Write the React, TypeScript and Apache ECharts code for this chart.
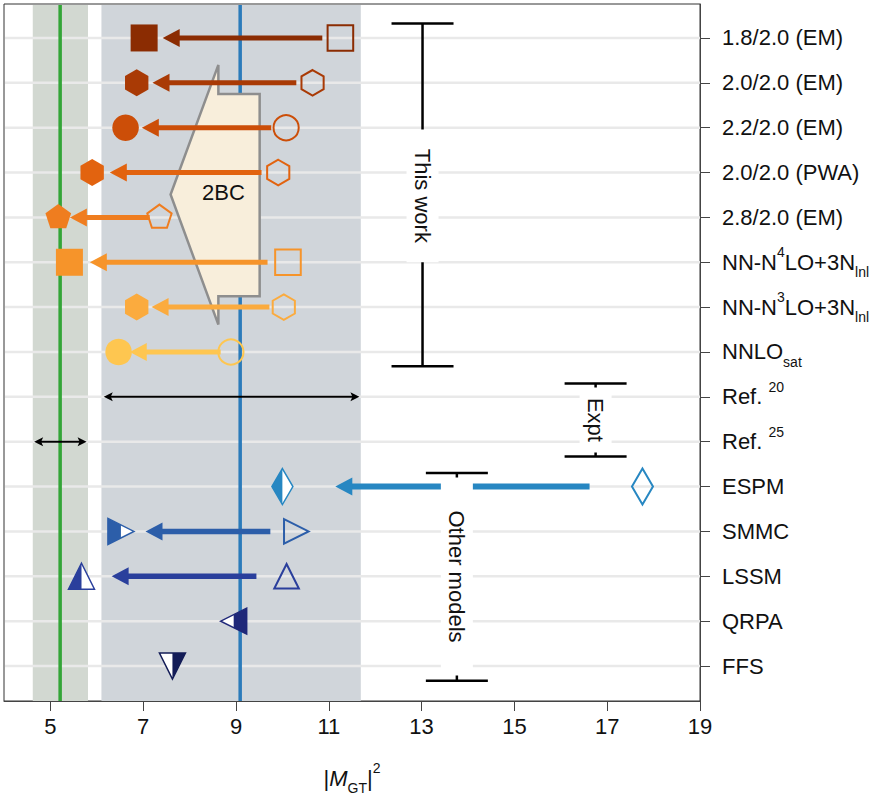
import { useEffect, useRef } from 'react';
import * as echarts from 'echarts';

const FONT = '"Liberation Sans", Arial, Helvetica, sans-serif';

// right-hand row labels (rich text)
const rowLabels = [
  '{t|1.8/2.0 (EM)}',
  '{t|2.0/2.0 (EM)}',
  '{t|2.2/2.0 (EM)}',
  '{t|2.0/2.0 (PWA)}',
  '{t|2.8/2.0 (EM)}',
  '{t|NN-N}{sup4|4}{t|LO+3N}{sub|lnl}',
  '{t|NN-N}{sup4|3}{t|LO+3N}{sub|lnl}',
  '{t|NNLO}{sub|sat}',
  '{t|Ref. }{sup|20}',
  '{t|Ref. }{sup|25}',
  '{t|ESPM}',
  '{t|SMMC}',
  '{t|LSSM}',
  '{t|QRPA}',
  '{t|FFS}',
];
const rowIndex = rowLabels.map((_, i) => i);
const xTicks = [5, 7, 9, 11, 13, 15, 17, 19];

// this work, rows 0-7
const twRows = [0, 1, 2, 3, 4, 5, 6, 7];
const twShapes = ['square', 'hexagon', 'circle', 'hexagon', 'pentagon', 'square', 'hexagon', 'circle'];
const twColors = ['#8b2c02', '#a93a05', '#cc4e08', '#e2630f', '#ef7d1f', '#f6942a', '#fbab3e', '#fec650'];
const twNo2BC = [11.25, 10.65, 10.08, 9.91, 7.35, 10.12, 10.03, 8.89];
const twWith2BC = [7.02, 6.86, 6.62, 5.9, 5.17, 5.41, 6.86, 6.47];
const twArrowFrom = [10.86, 10.3, 9.76, 9.55, 7.14, 9.68, 9.72, 8.67];
const twArrowTo = [7.42, 7.2, 6.97, 6.28, 5.42, 5.85, 7.18, 6.71];

// other models, rows 10-14
const omRows = [10, 11, 12, 13, 14];
const omShapes = ['diamond', 'triRight', 'triUp', 'triLeft', 'triDown'];
const omColors = ['#2787c2', '#2c5ea9', '#2a3f9c', '#1f2879', '#131c57'];
const omQuenched = [10.0, 6.52, 5.67, 8.95, 7.63];
const omBare = [17.76, 10.3, 10.09, null, null];
const omArrowFrom = [16.62, 9.74, 9.44, null, null];
const omArrowTo = [11.14, 7.05, 6.32, null, null];

// experiment, rows 8-9
const exptRows = [8, 9];
const exptLow = [6.15, 4.65];
const exptHigh = [11.66, 5.78];
const exptBandLow = [6.1, 4.62];
const exptBandHigh = [11.69, 5.81];
const exptCentral = [9.09, 5.21];
const exptBandColors = ['#d0d5da', '#d2d8d1'];
const exptLineColors = ['#2b7bba', '#33a537'];

// 2BC outline
const twoBCx = [8.62, 7.59, 8.62, 8.62, 9.51, 9.51, 8.62];
const twoBCrow = [0.6, 3.49, 6.39, 5.76, 5.76, 1.25, 1.25];
const twoBCText = [8.73, 3.45];

// brackets
const bracketLabels = ['This work', 'Expt', 'Other models'];
const bracketX = [13.02, 16.75, 13.76];
const bracketTop = [-0.32, 7.7, 9.7];
const bracketBottom = [7.32, 9.33, 14.33];
const bracketGapTop = [2.04, 7.79, 9.8];
const bracketGapBottom = [5.0, 9.24, 14.21];

type Pt = [number, number];

function shapePoints(shape: string, cx: number, cy: number, r: number): Pt[] {
  if (shape === 'square') return [[cx - r, cy - r], [cx + r, cy - r], [cx + r, cy + r], [cx - r, cy + r]];
  if (shape === 'hexagon' || shape === 'pentagon') {
    const n = shape === 'hexagon' ? 6 : 5;
    const pts: Pt[] = [];
    for (let k = 0; k < n; k++) {
      const a = -Math.PI / 2 + (k * 2 * Math.PI) / n;
      pts.push([cx + r * Math.cos(a), cy + r * Math.sin(a)]);
    }
    return pts;
  }
  const t = r - 0.5;
  if (shape === 'diamond') return [[cx, cy - 18], [cx + 10.5, cy], [cx, cy + 18], [cx - 10.5, cy]];
  if (shape === 'triRight') return [[cx - t, cy - t], [cx + t, cy], [cx - t, cy + t]];
  if (shape === 'triLeft') return [[cx + t, cy - t], [cx - t, cy], [cx + t, cy + t]];
  if (shape === 'triUp') return [[cx, cy - t], [cx + t, cy + t], [cx - t, cy + t]];
  return [[cx - t, cy - t], [cx + t, cy - t], [cx, cy + t]];
}

function halfPoints(shape: string, cx: number, cy: number, r: number): Pt[] {
  const t = r - 0.5;
  if (shape === 'diamond') return [[cx, cy - 18], [cx, cy + 18], [cx - 10.5, cy]];
  if (shape === 'triRight') return [[cx - t, cy - t], [cx, cy - t / 2], [cx, cy + t / 2], [cx - t, cy + t]];
  if (shape === 'triLeft') return [[cx, cy - t / 2], [cx + t, cy - t], [cx + t, cy + t], [cx, cy + t / 2]];
  if (shape === 'triUp') return [[cx, cy - t], [cx, cy + t], [cx - t, cy + t]];
  return [[cx, cy - t], [cx + t, cy - t], [cx, cy + t]];
}

function markerEl(shape: string, cx: number, cy: number, color: string, open: boolean) {
  const r = open ? 12.8 : 13.5;
  const style = open ? { fill: 'none', stroke: color, lineWidth: 2 } : { fill: color };
  if (shape === 'circle') return { type: 'circle', shape: { cx, cy, r: open ? 12.6 : 13.3 }, style };
  return { type: 'polygon', shape: { points: shapePoints(shape, cx, cy, r) }, style };
}

function arrowEl(api: any, from: number, to: number, row: number, color: string, width: number) {
  const [x1, y] = api.coord([from, row]);
  const [x2] = api.coord([to, row]);
  const head = 17;
  return {
    type: 'group',
    children: [
      { type: 'line', shape: { x1, y1: y, x2: x2 + head - 1, y2: y }, style: { stroke: color, lineWidth: width } },
      { type: 'polygon', shape: { points: [[x2, y], [x2 + head, y - 9], [x2 + head, y + 9]] }, style: { fill: color } },
    ],
  };
}

export default function App() {
  const chartRef = useRef<HTMLDivElement>(null);

  useEffect(() => {
    if (!chartRef.current) return;
    const chart = echarts.init(chartRef.current, null, { renderer: 'svg' });

    const tStyle = { fontSize: 22, lineHeight: 34, fontFamily: FONT, color: '#111' };
    const small = { fontSize: 14, fontFamily: FONT, color: '#111' };

    const option: any = {
      animation: false,
      grid: { left: 4, top: 4, width: 696, height: 698, show: true, borderColor: '#333', borderWidth: 1 },
      xAxis: {
        type: 'value',
        min: 4,
        max: 19,
        axisLine: { show: true, onZero: false, lineStyle: { color: '#444', width: 1 } },
        axisTick: { show: true, length: 10, customValues: xTicks, lineStyle: { color: '#444' } },
        axisLabel: { customValues: xTicks, margin: 14, fontSize: 22, color: '#111', fontFamily: FONT },
        splitLine: { show: false },
        name: '{a||}{m|M}{s|GT}{a||}{p|2}',
        nameLocation: 'middle',
        nameGap: 60,
        nameTextStyle: {
          rich: {
            a: { ...tStyle },
            m: { ...tStyle, fontStyle: 'italic' },
            s: { ...small, lineHeight: 14, verticalAlign: 'bottom' },
            p: { ...small, lineHeight: 14, verticalAlign: 'top' },
          },
        },
      },
      yAxis: {
        type: 'value',
        inverse: true,
        min: -0.757,
        max: 14.78,
        position: 'right',
        axisLine: { show: true, onZero: false, lineStyle: { color: '#444', width: 1 } },
        axisTick: { show: true, length: 10, customValues: rowIndex, lineStyle: { color: '#444' } },
        axisLabel: {
          customValues: rowIndex,
          margin: 22,
          formatter: (v: number) => rowLabels[Math.round(v)],
          rich: {
            t: tStyle,
            sup: { ...small, lineHeight: 14, verticalAlign: 'top' },
            sup4: { ...small, lineHeight: 26, verticalAlign: 'top' },
            sub: { ...small, lineHeight: 14, verticalAlign: 'bottom' },
          },
        },
        splitLine: { show: false },
      },
      series: [
        // shaded experimental bands
        {
          type: 'custom',
          silent: true,
          data: exptRows.map((r, i) => [exptBandLow[i], exptBandHigh[i], r]),
          encode: { x: [0, 1], y: 2 },
          renderItem: (params: any, api: any) => {
            const cs = params.coordSys;
            const xa = api.coord([api.value(0), 0])[0];
            const xb = api.coord([api.value(1), 0])[0];
            return {
              type: 'rect',
              shape: { x: xa, y: cs.y + 1, width: xb - xa, height: cs.height - 1 },
              style: { fill: exptBandColors[params.dataIndex] },
            };
          },
        },
        // row grid lines
        {
          type: 'custom',
          silent: true,
          data: rowIndex.map((r) => [4, r]),
          encode: { x: 0, y: 1 },
          renderItem: (params: any, api: any) => {
            const cs = params.coordSys;
            const y = api.coord([4, api.value(1)])[1];
            return {
              type: 'line',
              shape: { x1: cs.x + 1, y1: y, x2: cs.x + cs.width, y2: y },
              style: { stroke: '#e9e9e9', lineWidth: 2.5 },
            };
          },
        },
        // central experimental values
        {
          type: 'custom',
          silent: true,
          data: exptRows.map((r, i) => [exptCentral[i], r]),
          encode: { x: 0, y: 1 },
          renderItem: (params: any, api: any) => {
            const cs = params.coordSys;
            const x = api.coord([api.value(0), 0])[0];
            return {
              type: 'line',
              shape: { x1: x, y1: cs.y + 1, x2: x, y2: cs.y + cs.height },
              style: { stroke: exptLineColors[params.dataIndex], lineWidth: 3.5 },
            };
          },
        },
        // 2BC shape
        {
          type: 'custom',
          silent: true,
          data: [twoBCText],
          encode: { x: 0, y: 1 },
          renderItem: (params: any, api: any) => {
            const pts = twoBCx.map((x, i) => api.coord([x, twoBCrow[i]]));
            const [tx, ty] = api.coord([api.value(0), api.value(1)]);
            return {
              type: 'group',
              children: [
                { type: 'polygon', shape: { points: pts }, style: { fill: '#f8eedb', stroke: '#8e8e8e', lineWidth: 2.5, lineJoin: 'miter' } },
                {
                  type: 'text',
                  x: tx,
                  y: ty,
                  style: { text: '2BC', fontSize: 22, fontFamily: FONT, fill: '#111', align: 'center', verticalAlign: 'middle' },
                },
              ],
            };
          },
        },
        // experimental double arrows
        {
          type: 'custom',
          silent: true,
          data: exptRows.map((r, i) => [exptLow[i], r, exptHigh[i]]),
          encode: { x: [0, 2], y: 1 },
          renderItem: (params: any, api: any) => {
            const [xa, y] = api.coord([api.value(0), api.value(1)]);
            const xb = api.coord([api.value(2), api.value(1)])[0];
            const h = 9;
            return {
              type: 'group',
              children: [
                { type: 'line', shape: { x1: xa + 4, y1: y, x2: xb - 4, y2: y }, style: { stroke: '#000', lineWidth: 2 } },
                { type: 'polygon', shape: { points: [[xa, y], [xa + h, y - 4.5], [xa + h - 2, y], [xa + h, y + 4.5]] }, style: { fill: '#000' } },
                { type: 'polygon', shape: { points: [[xb, y], [xb - h, y - 4.5], [xb - h + 2, y], [xb - h, y + 4.5]] }, style: { fill: '#000' } },
              ],
            };
          },
        },
        // this work arrows
        {
          type: 'custom',
          silent: true,
          data: twRows.map((r, i) => [twArrowFrom[i], r, twArrowTo[i]]),
          encode: { x: [0, 2], y: 1 },
          renderItem: (params: any, api: any) =>
            arrowEl(api, api.value(0), api.value(2), api.value(1), twColors[params.dataIndex], 5),
        },
        // this work, without 2BC (open)
        {
          type: 'custom',
          silent: true,
          data: twRows.map((r, i) => [twNo2BC[i], r]),
          encode: { x: 0, y: 1 },
          renderItem: (params: any, api: any) => {
            const [cx, cy] = api.coord([api.value(0), api.value(1)]);
            const i = params.dataIndex;
            return markerEl(twShapes[i], cx, cy, twColors[i], true);
          },
        },
        // this work, with 2BC (filled)
        {
          type: 'custom',
          silent: true,
          data: twRows.map((r, i) => [twWith2BC[i], r]),
          encode: { x: 0, y: 1 },
          renderItem: (params: any, api: any) => {
            const [cx, cy] = api.coord([api.value(0), api.value(1)]);
            const i = params.dataIndex;
            return markerEl(twShapes[i], cx, cy, twColors[i], false);
          },
        },
        // other models arrows
        {
          type: 'custom',
          silent: true,
          data: omRows
            .map((r, i) => [omArrowFrom[i], r, omArrowTo[i], i])
            .filter((d) => d[0] !== null),
          encode: { x: [0, 2], y: 1 },
          renderItem: (params: any, api: any) =>
            arrowEl(api, api.value(0), api.value(2), api.value(1), omColors[api.value(3)], params.dataIndex === 0 ? 6 : 5.5),
        },
        // other models, bare (open)
        {
          type: 'custom',
          silent: true,
          data: omRows.map((r, i) => [omBare[i], r, i]).filter((d) => d[0] !== null),
          encode: { x: 0, y: 1 },
          renderItem: (params: any, api: any) => {
            const [cx, cy] = api.coord([api.value(0), api.value(1)]);
            const i = api.value(2);
            return markerEl(omShapes[i], cx, cy, omColors[i], true);
          },
        },
        // other models, quenched (half filled)
        {
          type: 'custom',
          silent: true,
          data: omRows.map((r, i) => [omQuenched[i], r]),
          encode: { x: 0, y: 1 },
          renderItem: (params: any, api: any) => {
            const [cx, cy] = api.coord([api.value(0), api.value(1)]);
            const i = params.dataIndex;
            return {
              type: 'group',
              children: [
                { type: 'polygon', shape: { points: shapePoints(omShapes[i], cx, cy, 13.5) }, style: { fill: '#fff', stroke: omColors[i], lineWidth: 1.5 } },
                { type: 'polygon', shape: { points: halfPoints(omShapes[i], cx, cy, 13.5) }, style: { fill: omColors[i] } },
              ],
            };
          },
        },
        // brackets
        {
          type: 'custom',
          silent: true,
          data: bracketX.map((x, i) => [x, bracketTop[i], bracketBottom[i], bracketGapTop[i], bracketGapBottom[i]]),
          encode: { x: 0, y: [1, 2, 3, 4] },
          renderItem: (params: any, api: any) => {
            const [x, y0] = api.coord([api.value(0), api.value(1)]);
            const y1 = api.coord([api.value(0), api.value(2)])[1];
            const g0 = api.coord([api.value(0), api.value(3)])[1];
            const g1 = api.coord([api.value(0), api.value(4)])[1];
            const cap = 31;
            const line = { stroke: '#000', lineWidth: 2.5 };
            return {
              type: 'group',
              children: [
                { type: 'line', shape: { x1: x, y1: y0, x2: x, y2: y1 }, style: line },
                { type: 'line', shape: { x1: x - cap, y1: y0, x2: x + cap, y2: y0 }, style: line },
                { type: 'line', shape: { x1: x - cap, y1: y1, x2: x + cap, y2: y1 }, style: line },
                { type: 'rect', shape: { x: x - 16, y: g0, width: 32, height: g1 - g0 }, style: { fill: '#fff' } },
                {
                  type: 'text',
                  x,
                  y: (g0 + g1) / 2,
                  rotation: -Math.PI / 2,
                  style: {
                    text: bracketLabels[params.dataIndex],
                    fontSize: 22,
                    fontFamily: FONT,
                    fill: '#111',
                    align: 'center',
                    verticalAlign: 'middle',
                  },
                },
              ],
            };
          },
        },
      ],
    };

    chart.setOption(option);
    return () => {
      chart.dispose();
    };
  }, []);

  return <div ref={chartRef} style={{ position: 'absolute', left: 0, top: 0, width: 890, height: 800 }} />;
}
